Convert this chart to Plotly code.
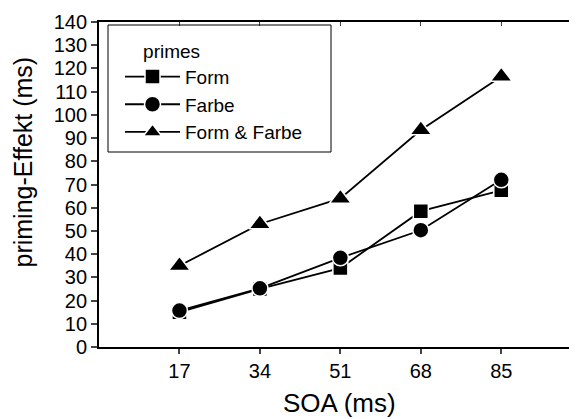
import plotly.graph_objects as go

soa = [17, 34, 51, 68, 85]
form = [15, 25, 34, 58.5, 67.5]
farbe = [15.7, 25.3, 38.4, 50.3, 72]
form_farbe = [35, 53, 64, 93.5, 116.5]

series_names = ["Form", "Farbe", "Form & Farbe"]
series_values = [form, farbe, form_farbe]
symbols = ["square", "circle", "triangle-up"]
sizes = [15, 16, 19]

FONT = "Liberation Sans, Arial, sans-serif"

# page body has an 8px margin: figure is placed at (8, 8)
W, H = 569, 411
ML, MT, MB, MR = 91, 14, 72, 0
PW = W - ML - MR   # 478
PH = H - MT - MB   # 325
OX, OY = 8 + ML, 8 + MT  # plot-area origin in screenshot pixels


def px(xpix):
    return (xpix - OX) / PW


def py(ypix):
    return (OY + PH - ypix) / PH


fig = go.Figure()
for i, (name, vals, sym, sz) in enumerate(zip(series_names, series_values, symbols, sizes)):
    fig.add_trace(go.Scatter(
        x=soa, y=vals, name=name, mode="lines+markers",
        line=dict(color="black", width=1.8),
        marker=dict(symbol=sym, size=sz, color="black",
                    line=dict(color="white", width=1.5)),
        legendgroup=f"g{i}",
    ))

fig.add_trace(go.Scatter(x=[None], y=[None], xaxis="x2", yaxis="y2",
                         showlegend=False, hoverinfo="skip"))

fig.update_layout(
    width=W, height=H, autosize=False,
    margin=dict(l=ML, r=MR, t=MT, b=MB),
    paper_bgcolor="white", plot_bgcolor="white",
    font=dict(family=FONT, color="black", size=20),
    xaxis=dict(range=[0, 101], tickvals=soa, ticks="outside", ticklen=5,
               tickwidth=1.5, showline=True, linewidth=1.8, linecolor="black",
               showgrid=False, zeroline=False, tickfont=dict(size=20)),
    yaxis=dict(range=[0, 140], dtick=10, ticks="outside", ticklen=6,
               tickwidth=1.5, showline=True, linewidth=1.8, linecolor="black",
               showgrid=False, zeroline=False, tickfont=dict(size=20)),
    xaxis2=dict(range=[0, 101], tickvals=soa, overlaying="x", side="top",
                ticks="inside", ticklen=4, tickwidth=1, showline=True,
                linewidth=1.5, linecolor="black", showticklabels=False,
                showgrid=False, zeroline=False),
    yaxis2=dict(range=[0, 140], dtick=10, overlaying="y", side="right",
                ticks="inside", ticklen=3, tickwidth=1, showline=False,
                showticklabels=False, showgrid=False, zeroline=False),
    legend=dict(x=px(120), y=py(33), xanchor="left", yanchor="top",
                bgcolor="rgba(0,0,0,0)", borderwidth=0,
                font=dict(size=19), itemwidth=55, tracegroupgap=0,
                title=dict(text="\u00a0\u00a0\u00a0\u00a0primes", font=dict(size=19))),
    shapes=[dict(type="rect", xref="paper", yref="paper",
                 x0=px(108), x1=px(331), y0=py(152), y1=py(25),
                 line=dict(color="black", width=1), fillcolor="rgba(0,0,0,0)")],
    annotations=[
        dict(text="SOA (ms)", xref="paper", yref="paper", x=px(339.5), y=py(403),
             xanchor="center", yanchor="middle", showarrow=False,
             font=dict(size=26)),
        dict(text="priming-Effekt (ms)", xref="paper", yref="paper", x=px(22), y=py(162.5),
             xanchor="center", yanchor="middle", showarrow=False, textangle=-90,
             font=dict(size=25)),
    ],
)

fig.write_html("out.html")
